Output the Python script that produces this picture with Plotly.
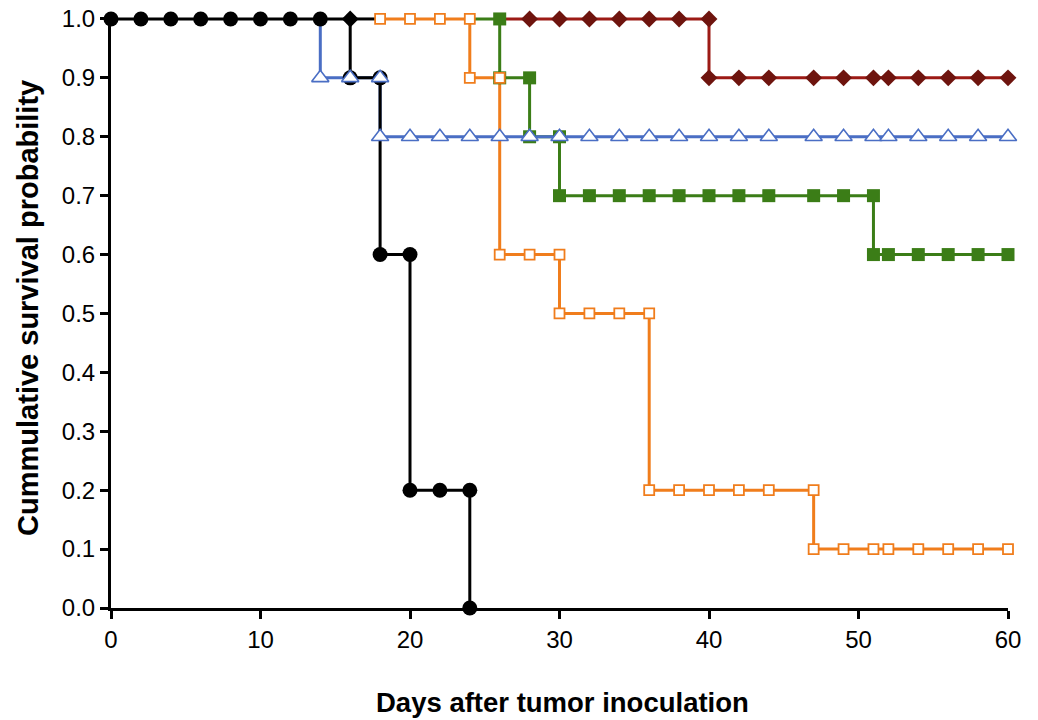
import plotly.graph_objects as go

# Kaplan-Meier style step curves (days, survival)
dias_control = [0, 2, 4, 6, 8, 10, 12, 14, 16, 16, 18, 18, 20, 20, 22, 24, 24]
surv_control = [1.0, 1.0, 1.0, 1.0, 1.0, 1.0, 1.0, 1.0, 1.0, 0.9, 0.9, 0.6, 0.6, 0.2, 0.2, 0.2, 0.0]

dias_rombo_negro = [16, 18]
surv_rombo_negro = [1.0, 1.0]

dias_azul = [14, 14, 16, 18, 18, 20, 22, 24, 26, 28, 30, 32, 34, 36, 38, 40, 42, 44, 47, 49, 51, 52, 54, 56, 58, 60]
surv_azul = [1.0, 0.9, 0.9, 0.9, 0.8, 0.8, 0.8, 0.8, 0.8, 0.8, 0.8, 0.8, 0.8, 0.8, 0.8, 0.8, 0.8, 0.8, 0.8, 0.8, 0.8, 0.8, 0.8, 0.8, 0.8, 0.8]

dias_naranja = [18, 20, 22, 24, 24, 26, 26, 28, 30, 30, 32, 34, 36, 36, 38, 40, 42, 44, 47, 47, 49, 51, 52, 54, 56, 58, 60]
surv_naranja = [1.0, 1.0, 1.0, 1.0, 0.9, 0.9, 0.6, 0.6, 0.6, 0.5, 0.5, 0.5, 0.5, 0.2, 0.2, 0.2, 0.2, 0.2, 0.2, 0.1, 0.1, 0.1, 0.1, 0.1, 0.1, 0.1, 0.1]

dias_verde = [24, 26, 26, 28, 28, 30, 30, 32, 34, 36, 38, 40, 42, 44, 47, 49, 51, 51, 52, 54, 56, 58, 60]
surv_verde = [1.0, 1.0, 0.9, 0.9, 0.8, 0.8, 0.7, 0.7, 0.7, 0.7, 0.7, 0.7, 0.7, 0.7, 0.7, 0.7, 0.7, 0.6, 0.6, 0.6, 0.6, 0.6, 0.6]

dias_rojo = [26, 28, 30, 32, 34, 36, 38, 40, 40, 42, 44, 47, 49, 51, 52, 54, 56, 58, 60]
surv_rojo = [1.0, 1.0, 1.0, 1.0, 1.0, 1.0, 1.0, 1.0, 0.9, 0.9, 0.9, 0.9, 0.9, 0.9, 0.9, 0.9, 0.9, 0.9, 0.9]

y_ticks = [0.0, 0.1, 0.2, 0.3, 0.4, 0.5, 0.6, 0.7, 0.8, 0.9, 1.0]
x_ticks = [0, 10, 20, 30, 40, 50, 60]

FUENTE = "Liberation Sans, Arial, Helvetica, sans-serif"

# (x, y, line color, marker dict, indices without marker)
grupos = {
    "rojo": (dias_rojo, surv_rojo, "#9c1a15",
             dict(symbol="diamond", size=13, color="#6e140e"), [0]),
    "verde": (dias_verde, surv_verde, "#3b7d17",
              dict(symbol="square", size=13, color="#3b7d17"), [0]),
    "control": (dias_control, surv_control, "#000000",
                dict(symbol="circle", size=15, color="#000000"), [8]),
    "rombo_negro": (dias_rombo_negro, surv_rombo_negro, "#000000",
                    dict(symbol="diamond", size=13, color="#000000"), [1]),
    "naranja": (dias_naranja, surv_naranja, "#f07d1c",
                dict(symbol="square", size=10, color="white",
                     line=dict(color="#f07d1c", width=1.8)), []),
    "azul": (dias_azul, surv_azul, "#4a6ec4",
             dict(symbol="triangle-up", size=15, color="white",
                  line=dict(color="#4a6ec4", width=1.6)), [0]),
}

orden_lineas = ["rojo", "verde", "azul", "naranja", "control", "rombo_negro"]
orden_marcas = ["rojo", "verde", "control", "rombo_negro", "naranja", "azul"]

fig = go.Figure()

for k in orden_lineas:
    x, y, col, _, _ = grupos[k]
    fig.add_trace(go.Scatter(x=x, y=y, mode="lines", line=dict(color=col, width=3, shape="hv"),
                             cliponaxis=False, hoverinfo="skip"))

for k in orden_marcas:
    x, y, _, mk, ocultos = grupos[k]
    xm = [v for i, v in enumerate(x) if i not in ocultos]
    ym = [v for i, v in enumerate(y) if i not in ocultos]
    fig.add_trace(go.Scatter(x=xm, y=ym, mode="markers", marker=mk, cliponaxis=False))

fig.update_layout(
    width=1038, height=720,
    plot_bgcolor="white", paper_bgcolor="white",
    showlegend=False,
    margin=dict(l=111, r=30, t=16, b=112, autoexpand=False),
    font=dict(family=FUENTE, color="black"),
)
fig.update_xaxes(range=[0, 60], tickvals=x_ticks, showgrid=False, zeroline=False, automargin=False,
                 showline=True, linecolor="black", linewidth=3,
                 ticks="outside", ticklen=8, tickwidth=2.5, tickcolor="black",
                 tickfont=dict(size=24, family=FUENTE))
fig.update_yaxes(range=[0, 1.005], tickvals=y_ticks, tickformat=".1f", showgrid=False, zeroline=False,
                 automargin=False, showline=True, linecolor="black", linewidth=3,
                 ticks="outside", ticklen=8, tickwidth=2.5, tickcolor="black",
                 tickfont=dict(size=24, family=FUENTE))

fig.add_annotation(text="<b>Days after tumor inoculation</b>", xref="paper", yref="paper",
                   x=0.503, y=-0.160, xanchor="center", yanchor="middle", showarrow=False,
                   font=dict(size=27.5, family=FUENTE))
fig.add_annotation(text="<b>Cummulative survival probability</b>", xref="paper", yref="paper",
                   x=-0.0925, y=0.507, xanchor="center", yanchor="middle", textangle=-90,
                   showarrow=False, font=dict(size=29, family=FUENTE))

# sin margen del body para que la figura empiece en (0, 0)
fig.write_html("out.html", config={"displayModeBar": False},
               post_script="document.body.style.margin='0';")
